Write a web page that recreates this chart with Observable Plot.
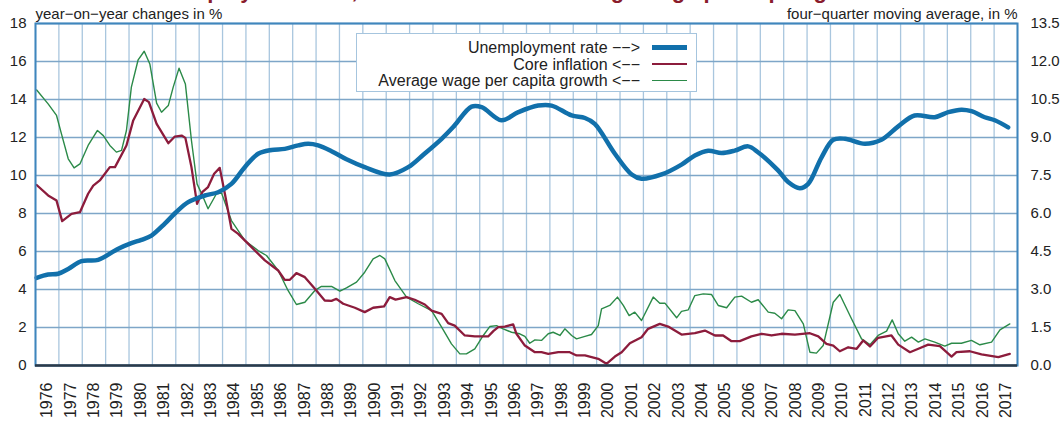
<!DOCTYPE html>
<html><head><meta charset="utf-8">
<script src="https://cdn.jsdelivr.net/npm/d3@7"></script>
<script src="https://cdn.jsdelivr.net/npm/@observablehq/plot@0.6"></script>
<style>
body{margin:0;background:#fff;font-family:"Liberation Sans",Arial,Helvetica,sans-serif;}
#wrap{position:relative;width:1060px;height:423px;overflow:hidden;}
#legend{position:absolute;left:356px;top:33px;width:341px;height:59px;background:#fff;border:1.5px solid #a6c5de;box-sizing:border-box;font-size:16px;color:#222;}
.lrow{position:absolute;left:0;width:100%;height:17px;}
.ltxt{position:absolute;right:56px;top:0;line-height:17px;white-space:nowrap;}
.lline{position:absolute;left:295px;width:35px;}
</style>
</head><body>
<div id="wrap"><div id="chart"></div><div id="legend"></div></div>
<script>
const title = "Unemployment rate, core inflation and average wage per capita growth";
const leftAxisTitle = "year\u2212on\u2212year changes in %";
const rightAxisTitle = "four\u2212quarter moving average, in %";
const years = d3.range(1976, 2018);
const leftTicks = [0,2,4,6,8,10,12,14,16,18];
const leftTickLabels = ["0","2","4","6","8","10","12","14","16","18"];
const rightTickLabels = ["0.0","1.5","3.0","4.5","6.0","7.5","9.0","10.5","12.0","13.5"];
const leftMax = 18, rightMax = 13.5;

const seriesNames = ["Unemployment rate \u2212\u2212>", "Core inflation <\u2212\u2212", "Average wage per capita growth <\u2212\u2212"];
const seriesColors = ["#1170ab", "#8c1c3c", "#2b8a48"];
const seriesWidths = [4.5, 2.3, 1.4];

// Unemployment rate (right axis, %)
const unempT = [1976.05,1976.54,1976.97,1977.4,1977.97,1978.68,1979.54,1980.1,1980.53,1980.96,1981.53,1982.0,1982.53,1983.24,1983.81,1984.38,1984.95,1985.52,1986.09,1986.66,1987.24,1987.66,1988.09,1988.66,1989.3,1990.08,1991.15,1991.94,1992.6,1993.37,1993.9,1994.65,1995.08,1995.93,1996.65,1997.5,1998.07,1998.93,1999.5,1999.92,2000.78,2001.5,2001.92,2002.78,2003.63,2004.2,2004.77,2005.34,2005.9,2006.48,2006.9,2007.76,2008.19,2008.69,2009.05,2009.62,2010.12,2010.62,2011.47,2012.18,2012.9,2013.6,2014.46,2015.04,2015.6,2016.03,2016.6,2017.03,2017.6];
const unempV = [3.46,3.59,3.62,3.81,4.12,4.17,4.61,4.83,4.96,5.13,5.6,6.04,6.45,6.71,6.84,7.17,7.83,8.36,8.51,8.55,8.69,8.75,8.69,8.46,8.14,7.83,7.54,7.83,8.33,8.95,9.45,10.22,10.2,9.68,10.0,10.26,10.26,9.87,9.77,9.54,8.36,7.54,7.37,7.54,7.93,8.29,8.48,8.39,8.48,8.65,8.42,7.7,7.24,7.0,7.17,8.22,8.91,8.95,8.75,8.91,9.44,9.87,9.8,10.0,10.1,10.04,9.8,9.68,9.4];

// Core inflation (left axis, %)
const inflT = [1976.05,1976.54,1976.9,1977.14,1977.54,1977.9,1978.25,1978.47,1978.75,1979.18,1979.4,1979.89,1980.18,1980.65,1980.85,1981.18,1981.68,1981.96,1982.25,1982.41,1982.67,1982.91,1983.13,1983.38,1983.64,1983.88,1984.1,1984.38,1984.67,1985.24,1985.81,1986.38,1986.66,1986.88,1987.16,1987.52,1987.95,1988.37,1988.66,1988.87,1989.16,1989.66,1990.08,1990.44,1990.91,1991.15,1991.4,1991.87,1992.22,1992.65,1992.94,1993.37,1993.65,1993.93,1994.36,1994.79,1995.36,1995.58,1995.79,1996.07,1996.43,1996.57,1996.93,1997.36,1997.64,1997.93,1998.36,1998.85,1999.14,1999.5,2000.07,2000.42,2000.78,2001.07,2001.42,2001.92,2002.2,2002.7,2003.06,2003.63,2004.2,2004.63,2005.06,2005.41,2005.77,2006.12,2006.62,2007.05,2007.48,2007.91,2008.48,2009.12,2009.48,2009.83,2010.12,2010.4,2010.76,2011.12,2011.4,2011.69,2012.04,2012.61,2012.9,2013.4,2013.76,2014.18,2014.68,2015.18,2015.39,2015.96,2016.46,2017.18,2017.67];
const inflV = [9.5,8.95,8.68,7.6,7.98,8.07,9.04,9.47,9.74,10.44,10.44,11.58,12.9,14.03,13.86,12.72,11.7,12.05,12.1,11.98,10.44,8.51,9.12,9.39,10.09,10.4,9.04,7.19,6.93,6.23,5.53,5.0,4.51,4.51,4.86,4.65,4.04,3.42,3.4,3.51,3.25,3.04,2.81,3.04,3.11,3.6,3.47,3.6,3.46,3.21,2.89,2.72,2.23,2.1,1.58,1.53,1.53,1.81,2.02,2.05,2.16,1.67,1.05,0.7,0.7,0.61,0.7,0.7,0.53,0.53,0.35,0.09,0.47,0.7,1.17,1.49,1.93,2.19,2.05,1.63,1.7,1.84,1.58,1.58,1.28,1.28,1.53,1.67,1.58,1.67,1.63,1.7,1.53,1.14,1.05,0.75,0.96,0.88,1.32,1.0,1.46,1.58,1.1,0.7,0.88,1.1,1.02,0.47,0.7,0.75,0.58,0.44,0.61];

// Average wage per capita growth (left axis, %)
const wageT = [1976.05,1976.54,1976.9,1977.11,1977.4,1977.65,1977.9,1978.25,1978.65,1978.9,1979.18,1979.46,1979.68,1979.89,1980.1,1980.39,1980.65,1980.89,1981.18,1981.39,1981.68,1981.89,1982.14,1982.41,1982.67,1982.91,1983.17,1983.38,1983.74,1983.96,1984.38,1984.95,1985.52,1985.88,1986.38,1986.8,1987.16,1987.52,1987.95,1988.23,1988.66,1989.02,1989.3,1989.73,1990.08,1990.44,1990.73,1990.94,1991.37,1991.87,1992.37,1992.94,1993.37,1993.79,1994.15,1994.43,1994.79,1995.15,1995.43,1995.72,1996.0,1996.36,1996.71,1996.93,1997.14,1997.36,1997.64,1997.93,1998.14,1998.43,1998.64,1998.93,1999.14,1999.5,1999.78,2000.07,2000.21,2000.56,2000.89,2001.14,2001.39,2001.63,2001.92,2002.42,2002.7,2002.92,2003.42,2003.63,2003.92,2004.2,2004.56,2004.91,2005.2,2005.56,2005.91,2006.2,2006.62,2006.91,2007.34,2007.62,2007.91,2008.19,2008.48,2008.84,2009.12,2009.4,2009.69,2010.12,2010.4,2010.9,2011.33,2011.69,2012.04,2012.4,2012.64,2012.9,2013.18,2013.47,2013.76,2014.04,2014.46,2014.89,2015.18,2015.6,2016.03,2016.39,2016.89,2017.25,2017.67];
const wageV = [14.5,13.77,13.16,12.19,10.88,10.4,10.61,11.58,12.37,12.1,11.58,11.23,11.32,12.37,14.65,16.09,16.54,15.87,13.81,13.33,13.68,14.65,15.65,14.82,11.84,9.56,8.86,8.25,9.04,9.07,7.63,6.58,6.05,5.79,5.0,3.95,3.21,3.33,3.95,4.16,4.16,3.91,4.09,4.39,4.91,5.61,5.79,5.61,4.47,3.6,3.25,2.89,2.02,1.14,0.61,0.61,0.88,1.58,2.05,2.1,1.93,1.75,1.67,1.53,1.17,1.35,1.32,1.67,1.75,1.58,1.93,1.58,1.4,1.53,1.63,2.1,2.98,3.16,3.6,3.16,2.63,2.81,2.37,3.6,3.28,3.28,2.51,2.85,2.93,3.68,3.77,3.74,3.16,3.04,3.6,3.65,3.33,3.46,2.81,2.75,2.46,2.93,2.89,2.19,0.7,0.65,1.05,3.33,3.74,2.46,1.4,1.1,1.58,1.81,2.4,1.67,1.28,1.49,1.23,1.4,1.23,1.02,1.17,1.17,1.32,1.09,1.23,1.88,2.19];

const unemp = unempT.map((t,i)=>({t, v: unempV[i] * leftMax / rightMax}));
const infl = inflT.map((t,i)=>({t, v: inflV[i]}));
const wage = wageT.map((t,i)=>({t, v: wageV[i]}));
const bounds = years.concat([2018]);
const centers = years.map(y=>y+0.5);

const chart = Plot.plot({
  width: 1060, height: 423,
  marginLeft: 35, marginRight: 43, marginTop: 23, marginBottom: 58,
  style: {fontFamily: "'Liberation Sans', Arial, Helvetica, sans-serif", fontSize: "15px", color: "#222", background: "transparent", overflow: "hidden"},
  x: {domain: [1976, 2018], axis: null},
  y: {domain: [0, leftMax], axis: null},
  marks: [
    Plot.ruleX(bounds, {stroke: "#a9c6de", strokeWidth: 1.3}),
    Plot.ruleY(leftTicks, {stroke: "#7ea6c8", strokeWidth: 1.3}),
    Plot.line(wage, {x: "t", y: "v", stroke: seriesColors[2], strokeWidth: seriesWidths[2]}),
    Plot.line(infl, {x: "t", y: "v", stroke: seriesColors[1], strokeWidth: seriesWidths[1]}),
    Plot.line(unemp, {x: "t", y: "v", stroke: seriesColors[0], strokeWidth: seriesWidths[0], curve: "catmull-rom"}),
    Plot.frame({stroke: "#3f86bd", strokeWidth: 2}),
    Plot.ruleY([0], {stroke: "#2c3a48", strokeWidth: 2.5}),
    Plot.axisY({ticks: leftTicks, anchor: "left", label: null, tickSize: 0, tickPadding: 9, fontSize: 15, tickFormat: (d,i)=>leftTickLabels[i]}),
    Plot.axisY({ticks: leftTicks, anchor: "right", label: null, tickSize: 0, tickPadding: 13, fontSize: 15, tickFormat: (d,i)=>rightTickLabels[i]}),
    Plot.axisX({ticks: centers, anchor: "bottom", label: null, tickSize: 0, tickPadding: 17, tickRotate: -90, fontSize: 16, tickFormat: (d,i)=>String(years[i])}),
    Plot.text([leftAxisTitle], {frameAnchor: "top-left", dy: -5, lineAnchor: "bottom", textAnchor: "start", fontSize: 15}),
    Plot.text([rightAxisTitle], {frameAnchor: "top-right", dy: -5, lineAnchor: "bottom", textAnchor: "end", fontSize: 15}),
    Plot.text([title], {frameAnchor: "top", dy: -26, dx: -10, lineAnchor: "bottom", fontWeight: "bold", fontSize: 22, fill: "#8a1c2c"})
  ]
});
document.getElementById("chart").appendChild(chart);

const legend = document.getElementById("legend");
const rowTops = [5, 21.5, 38];
seriesNames.forEach((name, i) => {
  const row = document.createElement("div");
  row.className = "lrow";
  row.style.top = rowTops[i] + "px";
  const t = document.createElement("span");
  t.className = "ltxt";
  t.textContent = name;
  const l = document.createElement("div");
  l.className = "lline";
  l.style.height = seriesWidths[i] + "px";
  l.style.top = (8.5 - seriesWidths[i]/2) + "px";
  l.style.background = seriesColors[i];
  row.appendChild(t); row.appendChild(l);
  legend.appendChild(row);
});
</script>
</body></html>
